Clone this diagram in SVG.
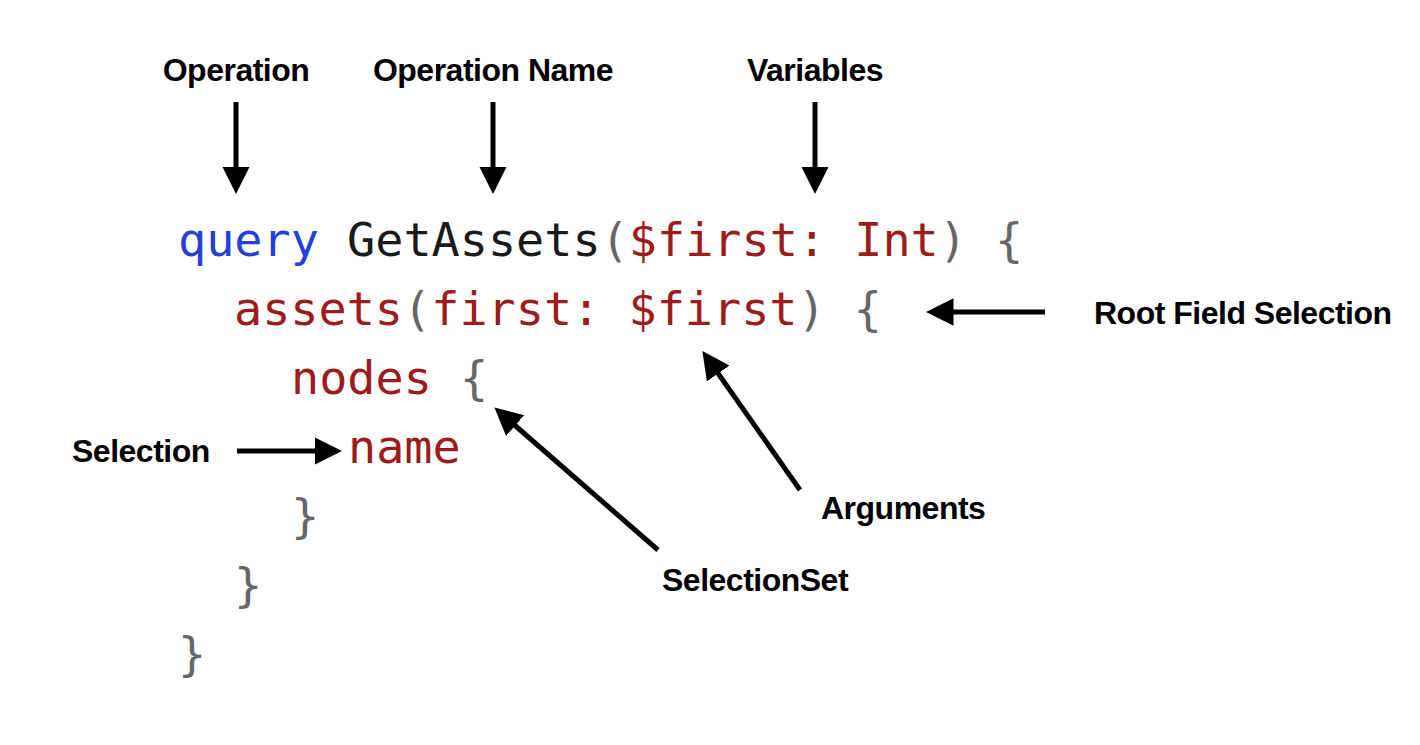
<svg xmlns="http://www.w3.org/2000/svg" width="1420" height="745" viewBox="0 0 1420 745">
<style>
.lbl{font-family:"Liberation Sans",Arial,sans-serif;font-weight:bold;font-size:32px;fill:#000;letter-spacing:-0.5px}
.code{font-family:"DejaVu Sans Mono",monospace;font-size:46.8px}
.kw{fill:#2440d8}.nm{fill:#1a1a1a}.rd{fill:#9e1b1b}.gy{fill:#666}
.ar{stroke:#000;stroke-width:5;fill:none;marker-end:url(#h)}
</style>
<defs><marker id="h" viewBox="0 0 10 10" refX="2" refY="5" markerWidth="5.5" markerHeight="5.5" orient="auto" markerUnits="strokeWidth"><path d="M0,0L10,5L0,10z" fill="#000"/></marker></defs>
<rect width="1420" height="745" fill="#fff"/>
<g id="code" class="code">
<text x="178" y="256"><tspan class="kw">query</tspan><tspan class="nm"> GetAssets</tspan><tspan class="gy">(</tspan><tspan class="rd">$first: Int</tspan><tspan class="gy">) {</tspan></text>
<text x="234" y="325"><tspan class="rd">assets</tspan><tspan class="gy">(</tspan><tspan class="rd">first: $first</tspan><tspan class="gy">) {</tspan></text>
<text x="291" y="394"><tspan class="rd">nodes </tspan><tspan class="gy">{</tspan></text>
<text x="348" y="463" class="rd">name</text>
<text x="291" y="532" class="gy">}</text>
<text x="234" y="601" class="gy">}</text>
<text x="178" y="670" class="gy">}</text>
</g>
<g id="labels">
<text class="lbl" x="236" y="81" text-anchor="middle">Operation</text>
<text class="lbl" x="493" y="81" text-anchor="middle">Operation Name</text>
<text class="lbl" x="815" y="81" text-anchor="middle">Variables</text>
<text class="lbl" x="1094" y="324">Root Field Selection</text>
<text class="lbl" x="72" y="462">Selection</text>
<text class="lbl" x="821" y="519">Arguments</text>
<text class="lbl" x="662" y="591">SelectionSet</text>
</g>
<g id="connectors">
<line class="ar" x1="236" y1="102" x2="236" y2="172"/>
<line class="ar" x1="493" y1="102" x2="493" y2="172"/>
<line class="ar" x1="815" y1="102" x2="815" y2="172"/>
<line class="ar" x1="1045" y1="312" x2="948" y2="312"/>
<line class="ar" x1="237" y1="451" x2="320" y2="451"/>
<line class="ar" x1="800" y1="490" x2="715" y2="369"/>
<line class="ar" x1="658" y1="550" x2="511" y2="422"/>
</g>
</svg>
